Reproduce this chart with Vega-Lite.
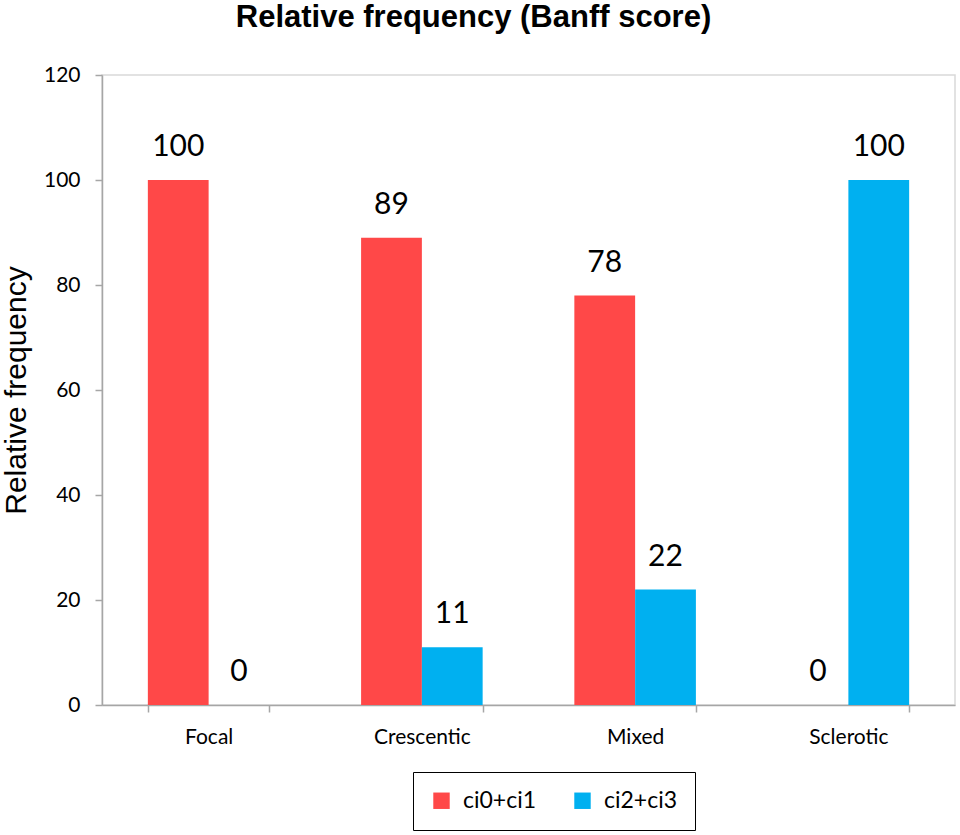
{
  "$schema": "https://vega.github.io/schema/vega-lite/v6.json",
  "autosize": "none",
  "width": 853,
  "height": 630,
  "padding": {"left": 102, "top": 75, "right": 5, "bottom": 130},
  "background": "white",
  "title": {
    "text": "Relative frequency (Banff score)",
    "font": "Liberation Sans",
    "fontSize": 31,
    "fontWeight": "bold",
    "color": "black",
    "anchor": "middle",
    "dx": -55,
    "offset": 30
  },
  "config": {
    "view": {"stroke": "#d9d9d9", "strokeWidth": 1.5},
    "axis": {
      "domainColor": "#a6a6a6",
      "domainWidth": 1.5,
      "tickColor": "#a6a6a6",
      "tickWidth": 1.5,
      "tickSize": 7,
      "labelFont": "Lato",
      "labelColor": "black",
      "grid": false
    }
  },
  "data": {
    "values": [
      {"type": "Focal", "group": "ci0+ci1", "value": 100},
      {"type": "Focal", "group": "ci2+ci3", "value": 0},
      {"type": "Crescentic", "group": "ci0+ci1", "value": 89},
      {"type": "Crescentic", "group": "ci2+ci3", "value": 11},
      {"type": "Mixed", "group": "ci0+ci1", "value": 78},
      {"type": "Mixed", "group": "ci2+ci3", "value": 22},
      {"type": "Sclerotic", "group": "ci0+ci1", "value": 0},
      {"type": "Sclerotic", "group": "ci2+ci3", "value": 100}
    ]
  },
  "encoding": {
    "x": {
      "field": "type",
      "type": "nominal",
      "sort": ["Focal", "Crescentic", "Mixed", "Sclerotic"],
      "scale": {"paddingInner": 0.43, "paddingOuter": 0.215},
      "axis": {
        "title": null,
        "labelAngle": 0,
        "labelFontSize": 21,
        "labelPadding": 14,
        "tickBand": "extent"
      }
    },
    "xOffset": {
      "field": "group",
      "type": "nominal",
      "scale": {"paddingInner": 0, "paddingOuter": 0}
    },
    "y": {
      "field": "value",
      "type": "quantitative",
      "scale": {"domain": [0, 120]},
      "axis": {
        "title": "Relative frequency",
        "titleFont": "Liberation Sans",
        "titleFontSize": 30,
        "titleFontWeight": "normal",
        "titleColor": "black",
        "titlePadding": 12,
        "values": [0, 20, 40, 60, 80, 100, 120],
        "labelFontSize": 21,
        "labelPadding": 15
      }
    }
  },
  "layer": [
    {
      "mark": {"type": "bar"},
      "encoding": {
        "color": {
          "field": "group",
          "type": "nominal",
          "scale": {"domain": ["ci0+ci1", "ci2+ci3"], "range": ["#ff4848", "#00b0f0"]},
          "legend": {
            "title": null,
            "orient": "none",
            "direction": "horizontal",
            "legendX": 311,
            "legendY": 697,
            "padding": 17,
            "strokeColor": "black",
            "symbolType": "square",
            "symbolSize": 270,
            "symbolStrokeWidth": 0,
            "labelFont": "Lato",
            "labelFontSize": 23,
            "labelColor": "black",
            "labelOffset": 10,
            "columnPadding": 34
          }
        }
      }
    },
    {
      "mark": {
        "type": "text",
        "font": "Lato",
        "fontSize": 30,
        "color": "black",
        "baseline": "alphabetic",
        "dy": -24
      },
      "encoding": {
        "text": {"field": "value", "type": "quantitative"}
      }
    }
  ]
}
